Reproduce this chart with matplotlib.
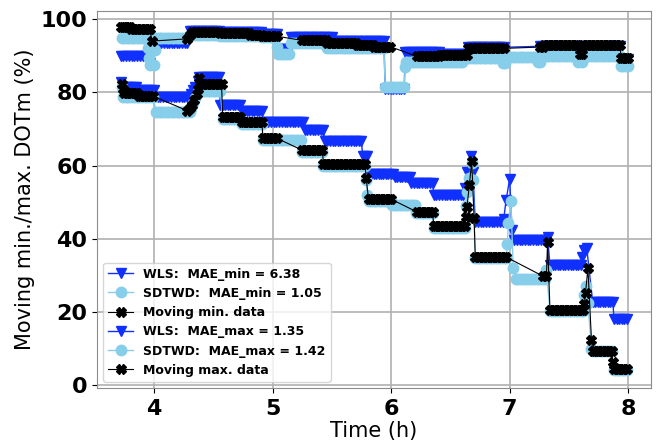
import numpy as np
import matplotlib.pyplot as plt

# plateaus: (start time h, end time h, value %)
# start == end means a single sample
wls_min = [(3.72, 3.73, 82.8), (3.74, 3.85, 81.4), (3.86, 4.00, 80.6), (4.01, 4.30, 78.8),
           (4.31, 4.31, 79.5), (4.33, 4.33, 80.5), (4.35, 4.35, 81.4), (4.37, 4.37, 83.0),
           (4.38, 4.55, 84.2), (4.56, 4.73, 76.5), (4.74, 4.91, 75.0), (4.92, 5.26, 72.0),
           (5.27, 5.43, 69.8), (5.44, 5.75, 66.8), (5.76, 5.80, 62.6), (5.81, 6.02, 57.8),
           (6.03, 6.16, 56.9), (6.17, 6.35, 55.1), (6.36, 6.61, 51.9), (6.62, 6.62, 53.8),
           (6.64, 6.64, 58.3), (6.67, 6.67, 62.6), (6.69, 6.69, 58.3), (6.71, 6.94, 44.6),
           (6.95, 6.95, 45.5), (6.97, 6.97, 50.5), (7.00, 7.00, 56.4), (7.02, 7.02, 42.3),
           (7.04, 7.31, 39.6), (7.32, 7.32, 40.5), (7.34, 7.60, 32.8), (7.61, 7.61, 35.0),
           (7.63, 7.63, 36.9), (7.65, 7.65, 37.5), (7.70, 7.87, 22.8), (7.88, 7.99, 18.2)]

sdtwd_min = [(3.73, 3.73, 81.5), (3.74, 3.99, 78.8), (4.02, 4.30, 74.7), (4.31, 4.31, 75.8),
             (4.33, 4.33, 77.0), (4.35, 4.35, 78.5), (4.37, 4.37, 80.0), (4.39, 4.56, 80.4),
             (4.58, 4.73, 72.8), (4.74, 4.91, 71.4), (4.92, 5.24, 67.0), (5.25, 5.42, 63.8),
             (5.43, 5.78, 60.0), (5.79, 5.79, 56.0), (5.80, 5.80, 52.0), (5.81, 6.00, 50.4),
             (6.01, 6.20, 49.2), (6.21, 6.35, 47.0), (6.36, 6.62, 43.0), (6.63, 6.63, 49.0),
             (6.64, 6.64, 52.8), (6.66, 6.66, 56.5), (6.68, 6.68, 60.8), (6.69, 6.69, 56.0),
             (6.71, 6.97, 34.6), (6.98, 6.98, 38.5), (6.99, 6.99, 44.3), (7.01, 7.01, 50.3),
             (7.03, 7.03, 32.0), (7.05, 7.30, 29.0), (7.31, 7.31, 31.4), (7.34, 7.62, 20.2),
             (7.63, 7.63, 24.5), (7.64, 7.64, 27.0), (7.66, 7.66, 22.4), (7.69, 7.69, 10.0),
             (7.70, 7.86, 9.2), (7.88, 7.99, 4.0)]

data_min = [(3.73, 3.73, 82.4), (3.74, 3.74, 80.8), (3.75, 3.86, 79.8), (3.87, 3.99, 79.0),
            (4.28, 4.28, 75.0), (4.30, 4.30, 75.6), (4.32, 4.32, 76.5), (4.34, 4.34, 77.8),
            (4.36, 4.36, 79.5), (4.37, 4.37, 81.0), (4.38, 4.38, 83.8), (4.39, 4.57, 82.3),
            (4.58, 4.73, 73.3), (4.74, 4.91, 71.9), (4.92, 5.04, 67.4), (5.25, 5.42, 64.2),
            (5.43, 5.78, 60.4), (5.79, 5.79, 56.5), (5.81, 6.00, 50.8), (6.22, 6.35, 47.3),
            (6.36, 6.62, 43.4), (6.63, 6.63, 46.0), (6.64, 6.64, 48.7), (6.66, 6.66, 54.6),
            (6.68, 6.68, 61.3), (6.70, 6.70, 45.8), (6.71, 6.97, 35.0), (7.28, 7.31, 29.8),
            (7.32, 7.32, 39.2), (7.34, 7.62, 20.5), (7.63, 7.63, 22.3), (7.64, 7.64, 25.2),
            (7.66, 7.66, 32.0), (7.69, 7.69, 12.3), (7.70, 7.86, 9.4), (7.87, 7.87, 6.4),
            (7.88, 7.99, 4.3)]

wls_max = [(3.72, 3.95, 90.0), (3.97, 3.97, 88.0), (4.02, 4.28, 93.5), (4.30, 4.55, 96.8),
           (4.56, 4.90, 96.5), (4.91, 5.04, 96.0), (5.05, 5.14, 91.8), (5.16, 5.50, 95.2),
           (5.51, 5.94, 94.0), (5.95, 6.11, 80.8), (6.12, 6.40, 91.0), (6.41, 6.64, 90.6),
           (6.65, 6.95, 92.3), (7.26, 7.57, 92.6), (7.59, 7.61, 91.0), (7.62, 7.93, 92.6),
           (7.94, 8.00, 89.0)]

sdtwd_max = [(3.73, 3.94, 94.8), (3.95, 3.95, 92.0), (3.96, 3.96, 89.5), (3.97, 4.00, 87.6),
             (4.01, 4.01, 91.5), (4.02, 4.28, 94.8), (4.30, 4.55, 95.6), (4.56, 4.90, 95.4),
             (4.91, 5.02, 95.0), (5.04, 5.04, 92.5), (5.05, 5.14, 90.5), (5.16, 5.45, 93.5),
             (5.46, 5.94, 92.2), (5.95, 6.11, 81.5), (6.12, 6.12, 87.0), (6.13, 6.60, 88.4),
             (6.61, 6.93, 89.5), (6.94, 6.96, 88.0), (6.98, 7.23, 89.6), (7.24, 7.26, 88.2),
             (7.27, 7.57, 89.8), (7.58, 7.61, 88.2), (7.62, 7.93, 89.8), (7.94, 8.00, 87.2)]

data_max = [(3.72, 3.80, 97.8), (3.81, 3.97, 97.2), (3.98, 3.98, 94.0), (4.28, 4.28, 94.6),
            (4.30, 4.30, 95.6), (4.32, 4.55, 96.4), (4.56, 4.80, 96.1), (4.81, 4.90, 95.7),
            (4.91, 5.04, 95.3), (5.25, 5.45, 94.2), (5.46, 5.70, 93.6), (5.71, 5.85, 93.0),
            (5.86, 5.99, 92.5), (6.22, 6.40, 89.8), (6.41, 6.64, 90.3), (6.65, 6.95, 92.0),
            (7.26, 7.28, 92.4), (7.29, 7.57, 93.0), (7.59, 7.61, 90.6), (7.62, 7.93, 93.0),
            (7.94, 8.00, 89.3)]

labels = ['WLS:  MAE_min = 6.38', 'SDTWD:  MAE_min = 1.05', 'Moving min. data',
          'WLS:  MAE_max = 1.35', 'SDTWD:  MAE_max = 1.42', 'Moving max. data']


def expand(plateaus, step=0.022):
    # one sample every `step` hours along each flat run
    t, v = [], []
    for t0, t1, y in plateaus:
        n = max(1, int(round((t1 - t0) / step)) + 1)
        t.extend(np.linspace(t0, t1, n))
        v.extend([y] * n)
    return np.array(t), np.array(v)


fig, ax = plt.subplots(figsize=(6.6, 4.43), dpi=100)
fig.subplots_adjust(left=0.147, right=0.986, top=0.975, bottom=0.124)

styles = [dict(color='#1030ff', marker='v', ms=7.5, lw=1.0),
          dict(color='skyblue', marker='o', ms=7.5, lw=1.0),
          dict(color='black', marker='X', ms=6.5, lw=0.8)]

for i, series in enumerate([wls_min, sdtwd_min, data_min, wls_max, sdtwd_max, data_max]):
    t, v = expand(series)
    ax.plot(t, v, label=labels[i], **styles[i % 3])

ax.set_xlim(3.52, 8.19)
ax.set_ylim(-0.8, 102.2)
ax.set_xticks([4, 5, 6, 7, 8])
ax.set_yticks([0, 20, 40, 60, 80, 100])
ax.grid(True, color='#b0b0b0', lw=1.2)
for s in ax.spines.values():
    s.set_color('0.55')
ax.tick_params(labelsize=16)
ax.tick_params(axis='x', pad=4.5)
for lab in ax.get_xticklabels() + ax.get_yticklabels():
    lab.set_fontweight('bold')

ax.set_xlabel('Time (h)', fontsize=15, labelpad=1)
ax.set_ylabel('Moving min./max. DOTm (%)', fontsize=15)
ax.legend(loc='lower left', prop={'weight': 'bold', 'size': 9})

fig.savefig('out.png', dpi=100)
